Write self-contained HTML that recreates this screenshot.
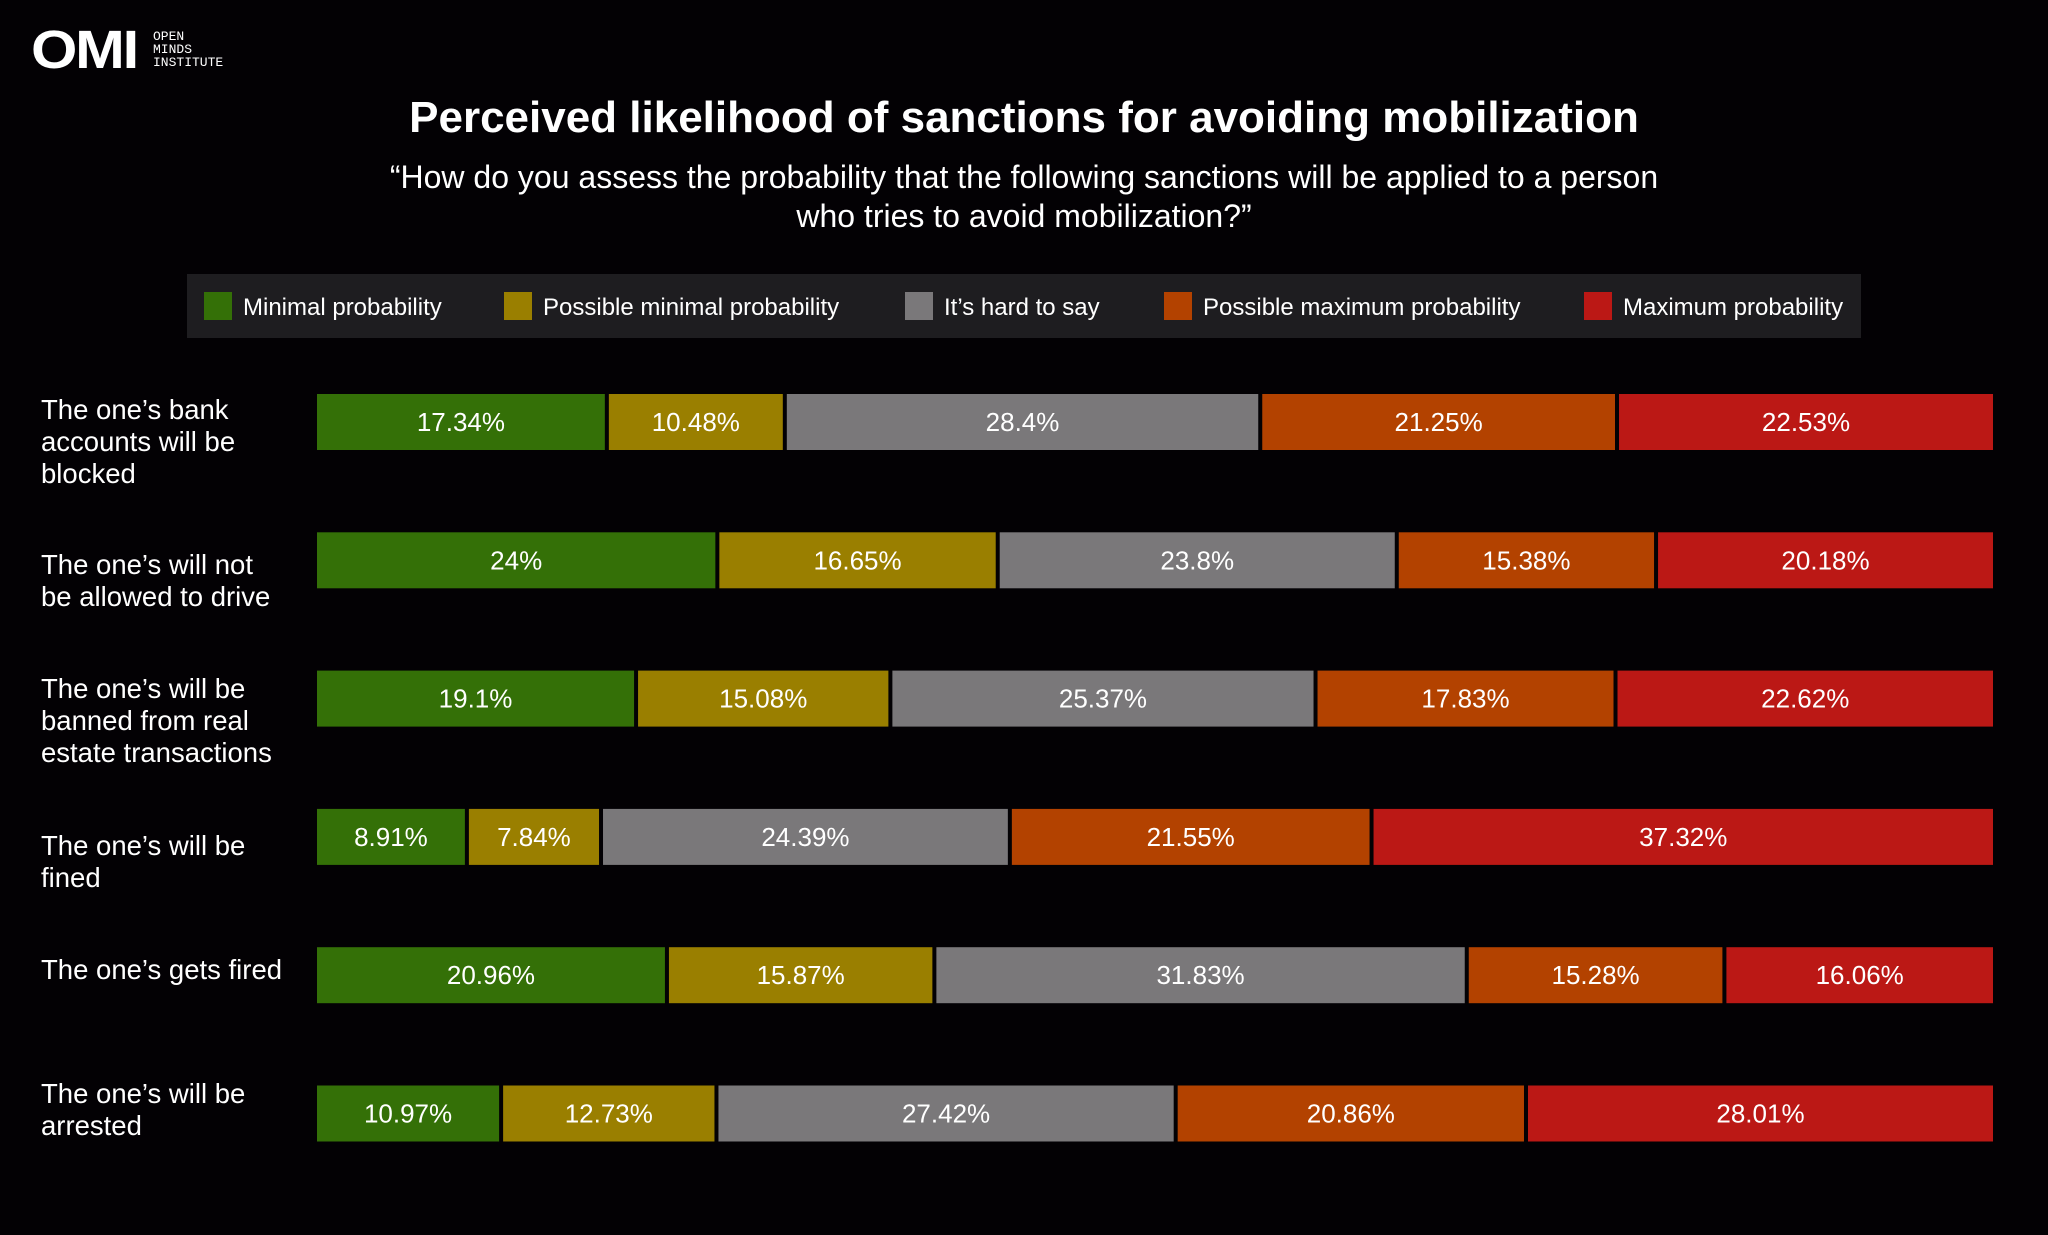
<!DOCTYPE html>
<html><head><meta charset="utf-8">
<style>
html,body{margin:0;padding:0;background:#030104;}
body{width:2048px;height:1230px;overflow:hidden;position:relative;font-family:"Liberation Sans",Arial,sans-serif;color:#fff;}
</style></head>
<body>
<svg id="chart" width="2048" height="1230" viewBox="0 0 2048 1230" xmlns="http://www.w3.org/2000/svg" font-family="Liberation Sans, Arial, sans-serif">
  <g>
    <text x="31" y="68" font-size="54" font-weight="bold" fill="#fff" letter-spacing="-2" textLength="106" lengthAdjust="spacingAndGlyphs">OMI</text>
    <text x="153" y="40" font-size="13" fill="#fff" font-family="Liberation Mono, monospace">OPEN</text>
    <text x="153" y="53" font-size="13" fill="#fff" font-family="Liberation Mono, monospace">MINDS</text>
    <text x="153" y="66" font-size="13" fill="#fff" font-family="Liberation Mono, monospace">INSTITUTE</text>
  </g>
  <text x="1024" y="132" text-anchor="middle" font-size="44" font-weight="bold" fill="#fff">Perceived likelihood of sanctions for avoiding mobilization</text>
  <text x="1024" y="188" text-anchor="middle" font-size="32" fill="#fff">“How do you assess the probability that the following sanctions will be applied to a person</text>
  <text x="1024" y="227" text-anchor="middle" font-size="32" fill="#fff">who tries to avoid mobilization?”</text>
  <rect x="187" y="274" width="1674" height="64" fill="#1e1d20"/>
  <g id="legend"></g>
  <g id="labels"></g>
  <g id="bars"></g>
</svg>
<script>
const categories = [
  ["The one’s bank","accounts will be","blocked"],
  ["The one’s will not","be allowed to drive"],
  ["The one’s will be","banned from real","estate transactions"],
  ["The one’s will be","fined"],
  ["The one’s gets fired"],
  ["The one’s will be","arrested"]
];
const seriesNames = ["Minimal probability","Possible minimal probability","It’s hard to say","Possible maximum probability","Maximum probability"];
const minimal = [17.34, 24, 19.1, 8.91, 20.96, 10.97];
const possibleMinimal = [10.48, 16.65, 15.08, 7.84, 15.87, 12.73];
const hardToSay = [28.4, 23.8, 25.37, 24.39, 31.83, 27.42];
const possibleMaximum = [21.25, 15.38, 17.83, 21.55, 15.28, 20.86];
const maximum = [22.53, 20.18, 22.62, 37.32, 16.06, 28.01];

const colors = ["#347007","#9a7f00","#7a787a","#b34200","#bb1815"];
const series = [minimal, possibleMinimal, hardToSay, possibleMaximum, maximum];
const NS = "http://www.w3.org/2000/svg";
const X0 = 317, X1 = 1993, GAP = 4, BAR_H = 56, ROW0 = 394, ROW_STEP = 138.3;
const labelFirstLine = [409, 564, 688, 845, 969, 1093];
function xScale(v, total){ return v / total * (X1 - X0 - GAP * 4); }
function yScale(i){ return ROW0 + i * ROW_STEP; }

const legendSq = [204, 504, 905, 1164, 1584];
const lg = document.getElementById('legend');
seriesNames.forEach((n, i) => {
  const r = document.createElementNS(NS, 'rect');
  
  
  r.setAttribute('x', legendSq[i]); r.setAttribute('y', 292);
  r.setAttribute('width', 28); r.setAttribute('height', 28);
  r.setAttribute('fill', colors[i]);
  lg.appendChild(r);
  const t = document.createElementNS(NS, 'text');
  
  
  t.setAttribute('x', legendSq[i] + 39); t.setAttribute('y', 315);
  t.setAttribute('font-size', 24); t.setAttribute('fill', '#fff');
  t.textContent = n;
  lg.appendChild(t);
});

const lb = document.getElementById('labels');
categories.forEach((lines, i) => {
  lines.forEach((ln, j) => {
    const t = document.createElementNS(NS, 'text');
    
    
    t.setAttribute('x', 41); t.setAttribute('y', labelFirstLine[i] + j * 32 + 10);
    t.setAttribute('font-size', 27.5); t.setAttribute('fill', '#fff');
    t.textContent = ln;
    lb.appendChild(t);
  });
});

const bg = document.getElementById('bars');
categories.forEach((c, i) => {
  const vals = series.map(s => s[i]);
  const total = vals.reduce((a, b) => a + b, 0);
  let x = X0;
  const y = yScale(i);
  vals.forEach((v, k) => {
    const w = xScale(v, total);
    const r = document.createElementNS(NS, 'rect');
    
    
    r.setAttribute('x', x); r.setAttribute('y', y);
    r.setAttribute('width', Math.max(0, w)); r.setAttribute('height', BAR_H);
    r.setAttribute('fill', colors[k]);
    bg.appendChild(r);
    const t = document.createElementNS(NS, 'text');
    
    
    t.setAttribute('x', x + w / 2); t.setAttribute('y', y + BAR_H / 2 + 9);
    t.setAttribute('text-anchor', 'middle'); t.setAttribute('font-size', 26); t.setAttribute('fill', '#fff');
    t.textContent = String(v) + '%';
    bg.appendChild(t);
    x += w + GAP;
  });
});
</script>
</body></html>
